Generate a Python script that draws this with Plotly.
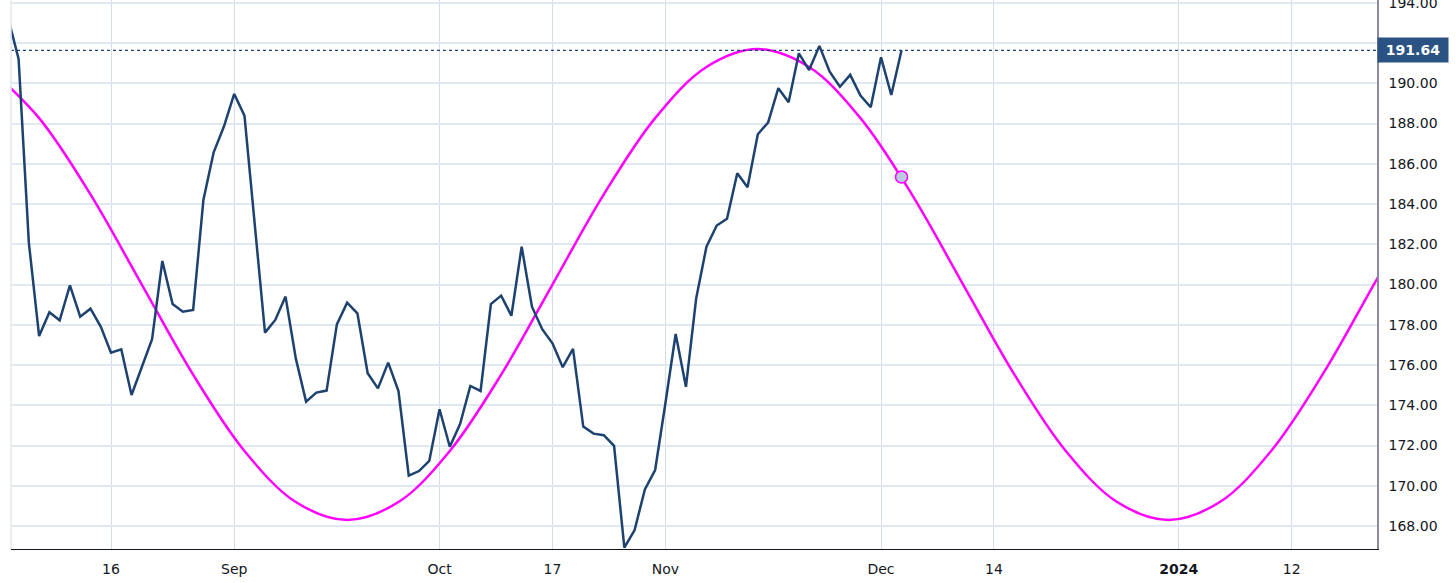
import plotly.graph_objects as go

# ---- data ----
# bar index (0 = Aug 16 2023); past bars are trading days, future part calendar days
price_index = list(range(-10, 78))
price_values = [
    193.20, 191.21, 182.07, 177.44, 178.62, 178.22, 179.96, 178.40, 178.80, 177.91,
    176.61, 176.78, 174.51, 175.89, 177.28, 181.17, 179.03, 178.65, 178.74, 184.20,
    186.57, 187.85, 189.47, 188.39, 183.00, 177.61, 178.24, 179.40, 176.33, 174.18,
    174.63, 174.73, 178.02, 179.10, 178.57, 175.59, 174.84, 176.12, 174.71, 170.50,
    170.73, 171.23, 173.80, 171.94, 173.07, 174.96, 174.71, 179.03, 179.45, 178.45,
    181.88, 178.90, 177.78, 177.08, 175.89, 176.80, 172.94, 172.59, 172.51, 171.98,
    166.92, 167.80, 169.82, 170.78, 174.10, 177.54, 174.92, 179.32, 181.88, 182.93,
    183.27, 185.53, 184.83, 187.47, 188.05, 189.76, 189.06, 191.49, 190.66, 191.86,
    190.58, 189.83, 190.42, 189.39, 188.81, 191.29, 189.42, 191.64,
]

cycle_index = list(range(-12, 129, 5))
cycle_values = [
    190.81, 188.27, 184.48, 180.00, 175.52, 171.73, 169.19, 168.30, 169.19, 171.73,
    175.52, 180.00, 184.48, 188.27, 190.81, 191.70, 190.81, 188.27, 184.48, 180.00,
    175.52, 171.73, 169.19, 168.30, 169.19, 171.73, 175.52, 180.00, 184.48,
]

marker_index = [77]
marker_values = [185.35]

tick_positions = [0, 12, 32, 43, 54, 75, 86, 104, 115]
tick_labels = ["16", "Sep", "Oct", "17", "Nov", "Dec", "14", "<b>2024</b>", "12"]

y_ticks = list(range(168, 196, 2))

# ---- figure ----
PRICE_COLOR = "#1d4270"
fig = go.Figure()

fig.add_trace(go.Scatter(
    x=cycle_index, y=cycle_values, mode="lines",
    line=dict(color="#ff00ff", width=2.5, shape="spline", smoothing=1.0),
    hoverinfo="skip", showlegend=False,
))

fig.add_trace(go.Scatter(
    x=price_index, y=price_values, mode="lines",
    line=dict(color=PRICE_COLOR, width=2.5),
    hoverinfo="skip", showlegend=False,
))

fig.add_trace(go.Scatter(
    x=marker_index, y=marker_values, mode="markers",
    marker=dict(size=12, color="#b8cde3", line=dict(color="#ff00ff", width=1.5)),
    hoverinfo="skip", showlegend=False,
))

last_price = price_values[-1]

# dotted last-price line
fig.add_shape(type="line", xref="paper", x0=0, x1=1, yref="y",
              y0=last_price, y1=last_price,
              line=dict(color=PRICE_COLOR, width=1.2, dash="dot"))

# light left border
fig.add_shape(type="line", xref="paper", x0=0, x1=0, yref="paper", y0=0, y1=1,
              line=dict(color="#e3e7ee", width=1.5))

# last price label
fig.add_annotation(
    x=1, xref="paper", xanchor="left", y=last_price, yref="y", yanchor="middle",
    text=f"<b>{last_price:.2f}</b>", showarrow=False,
    font=dict(family="DejaVu Sans", size=14, color="white"),
    bgcolor="#2a5282", width=66, height=20, borderpad=2, align="center",
)

fig.update_layout(
    width=1456, height=583,
    margin=dict(l=11, r=79, t=0, b=34, autoexpand=False),
    plot_bgcolor="white", paper_bgcolor="white",
    font=dict(family="DejaVu Sans", size=14, color="#131722"),
    showlegend=False,
)

fig.update_xaxes(
    range=[-9.74, 123.31],
    tickmode="array", tickvals=tick_positions, ticktext=tick_labels,
    showgrid=True, gridcolor="#d3deea", gridwidth=1,
    showline=True, linecolor="#131722", linewidth=1,
    ticks="", zeroline=False, ticklabelstandoff=7,
    tickfont=dict(family="DejaVu Sans", size=14, color="#131722"),
)

fig.update_yaxes(
    side="right", range=[166.857, 194.14],
    tickmode="array", tickvals=y_ticks,
    ticktext=[f"{v:.2f}" for v in y_ticks],
    showgrid=True, gridcolor="#e0e8f1", gridwidth=1.5,
    showline=True, linecolor="#8a8a9c", linewidth=1.5,
    ticks="", zeroline=False, ticklabelstandoff=7,
    ticklabeloverflow="allow",
    tickfont=dict(family="DejaVu Sans", size=14, color="#131722"),
)

fig.write_html("out.html", config={"displayModeBar": False},
               post_script="document.body.style.margin='0';")
